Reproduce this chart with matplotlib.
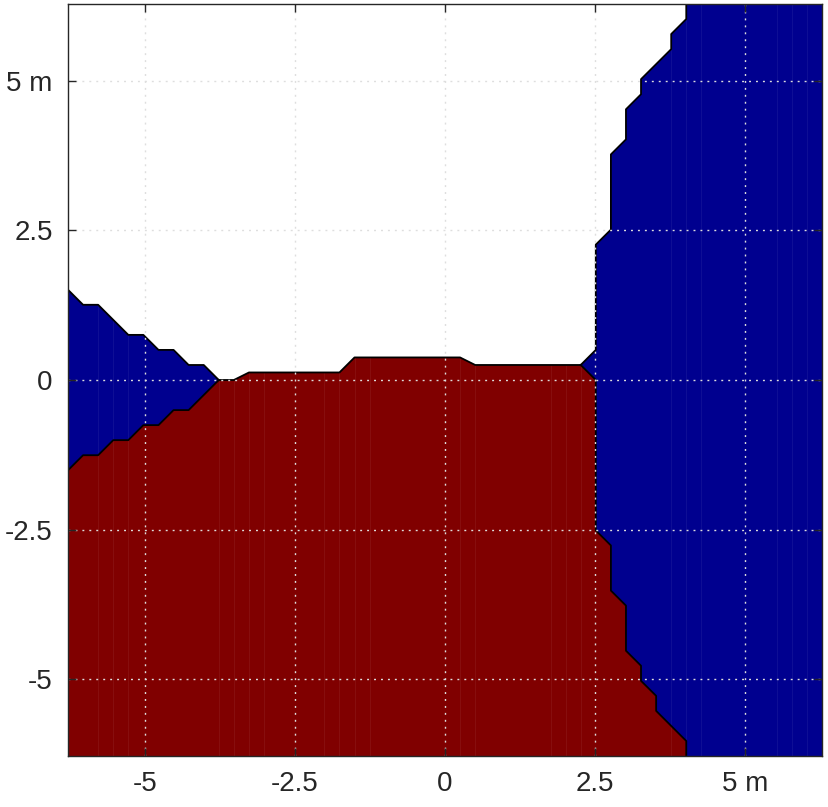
import numpy as np
import matplotlib
matplotlib.use('Agg')
import matplotlib.pyplot as plt

# region boundaries (metres)
upper_left_x = [-6.283, -6.032, -5.781, -5.278, -5.027, -4.775, -4.524, -4.273, -4.021, -3.770]
upper_left_y = [1.508, 1.257, 1.257, 0.754, 0.754, 0.503, 0.503, 0.251, 0.251, 0.0]

lower_left_x = [-6.283, -6.032, -5.781, -5.529, -5.278, -5.027, -4.775, -4.524, -4.273, -3.770]
lower_left_y = [-1.508, -1.257, -1.257, -1.005, -1.005, -0.754, -0.754, -0.503, -0.503, 0.0]

red_top_x = [-3.770, -3.519, -3.267, -1.759, -1.508, 0.251, 0.503, 2.262]
red_top_y = [0.0, 0.0, 0.126, 0.126, 0.377, 0.377, 0.251, 0.251]

right_upper_x = [2.262, 2.513, 2.513, 2.765, 2.765, 3.016, 3.016, 3.267, 3.267, 3.770, 3.770, 4.021, 4.021]
right_upper_y = [0.251, 0.503, 2.262, 2.513, 3.770, 4.021, 4.524, 4.775, 5.027, 5.529, 5.781, 6.032, 6.283]

right_lower_x = [2.262, 2.513, 2.513, 2.765, 2.765, 3.016, 3.016, 3.267, 3.267, 3.519, 3.519, 4.021, 4.021]
right_lower_y = [0.251, 0.0, -2.513, -2.765, -3.519, -3.770, -4.524, -4.775, -5.027, -5.278, -5.529, -6.032, -6.283]

ticks = [-5, -2.5, 0, 2.5, 5]
tick_labels = ['-5', '-2.5', '0', '2.5', '5 m']

lim = 2 * np.pi
red = (0.5, 0, 0)
blue = (0, 0, 0.5625)

plt.rcParams['font.family'] = ['Liberation Sans', 'DejaVu Sans']

fig = plt.figure(figsize=(8.29, 8.07), dpi=100)
ax = fig.add_axes([68 / 829, 1 - 756 / 807, (822 - 68) / 829, (756 - 4) / 807])
ax.set_facecolor(blue)

# white (empty) region
wx = [-lim] + upper_left_x + red_top_x[1:] + right_upper_x[1:]
wy = [lim] + upper_left_y + red_top_y[1:] + right_upper_y[1:]
ax.fill(wx, wy, color='white', lw=0, zorder=1)

# red region
rx = lower_left_x + red_top_x[1:] + right_lower_x[1:] + [-lim]
ry = lower_left_y + red_top_y[1:] + right_lower_y[1:] + [-lim]
ax.fill(rx, ry, color=red, lw=0, zorder=1)

# faint patch seams
h = 2 * lim / 50
for i in [2, 3, 4, 10, 11, 12, 13, 17, 18, 19, 20, 26, 27, 32, 33, 34, 40, 41, 42, 47, 48, 49]:
    ax.axvline(-lim + i * h, color='white', alpha=0.06, lw=0.8, zorder=1.5)

for xs, ys in [(upper_left_x, upper_left_y), (lower_left_x, lower_left_y),
               (red_top_x, red_top_y), (right_upper_x, right_upper_y),
               (right_lower_x, right_lower_y)]:
    ax.plot(xs, ys, color='black', lw=1.3, zorder=2)

ax.set_xlim(-lim, lim)
ax.set_ylim(-lim, lim)
ax.set_xticks(ticks)
ax.set_xticklabels(tick_labels)
ax.set_yticks(ticks)
ax.set_yticklabels(tick_labels)
ax.set_axisbelow(False)
ax.grid(True, color='#dedede', lw=1.0, linestyle=(0, (1.4, 3.6)))
ax.tick_params(direction='in', length=6, width=1, color='#262626',
               top=True, right=True, labelsize=20, labelcolor='#262626', pad=11)
for s in ax.spines.values():
    s.set_color('#262626')
    s.set_linewidth(1.0)
    s.set_zorder(3)

fig.savefig('out.png', dpi=100)
